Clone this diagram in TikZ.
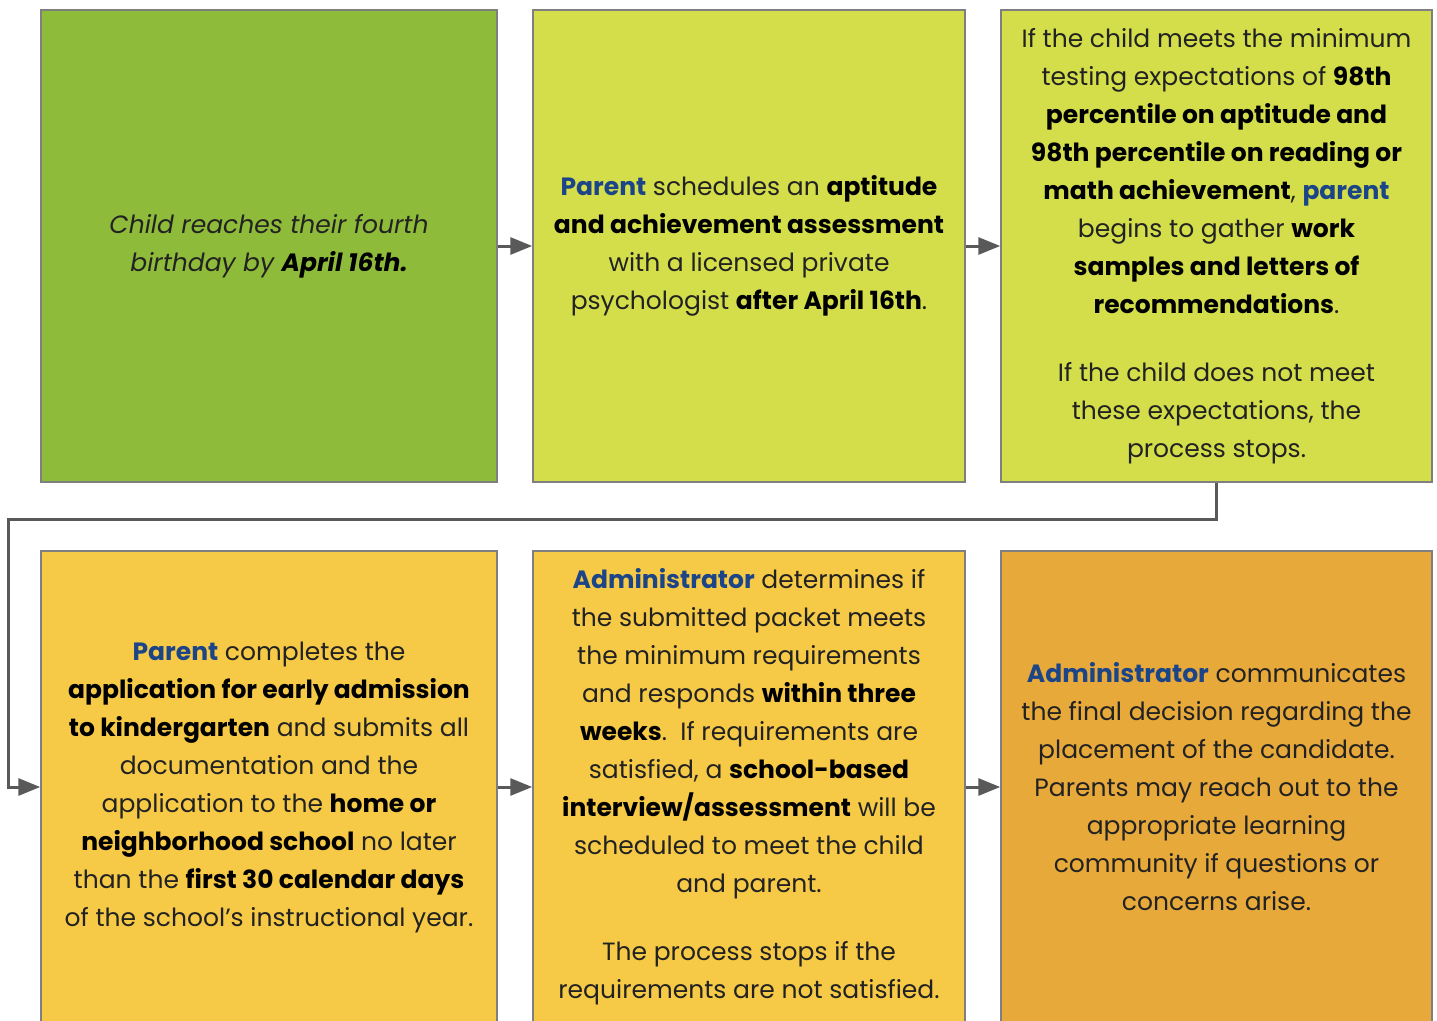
\documentclass[tikz,border=0pt]{standalone}
\usepackage{fontspec}
\setmainfont{Poppins}
\usetikzlibrary{arrows.meta}
\definecolor{cgreen}{HTML}{8FBB3A}
\definecolor{clime}{HTML}{D3DE4A}
\definecolor{cyellow}{HTML}{F6CA46}
\definecolor{corange}{HTML}{E8A93B}
\definecolor{cborder}{HTML}{7F7F7F}
\definecolor{carrow}{HTML}{595959}
\definecolor{cblue}{HTML}{1C4587}
\definecolor{ctext}{HTML}{222222}
\newcommand{\bl}[1]{\textbf{\color{black}#1}}
\newcommand{\who}[1]{\textbf{\color{cblue}#1}}
\tikzset{
  box/.style={draw=cborder, line width=1.5pt, minimum height=472pt, inner sep=0pt,
    align=center, text=ctext, font=\fontsize{25}{38}\selectfont},
  conn/.style={draw=carrow, line width=3pt, -{Triangle[length=22pt,width=17pt]}}
}
\begin{document}
\begin{tikzpicture}[x=1pt,y=-1pt]
\useasboundingbox (0,0) rectangle (1437,1020);
\clip (0,0) rectangle (1437,1020);
\node[box, fill=cgreen, minimum width=456pt] (b1) at (269,246)
  {\itshape Child reaches their fourth\\ \itshape birthday by \bl{April 16th.}};
\node[box, fill=clime, minimum width=432pt] (b2) at (749,246)
  {\who{Parent} schedules an \bl{aptitude}\\ \bl{and achievement assessment}\\ with a licensed private\\ psychologist \bl{after April 16th}.};
\node[box, fill=clime, minimum width=431pt] (b3) at (1216.5,246)
  {If the child meets the minimum\\ testing expectations of \bl{98th}\\ \bl{percentile on aptitude and}\\ \bl{98th percentile on reading or}\\ \bl{math achievement}, \who{parent}\\ begins to gather \bl{work}\\ \bl{samples and letters of}\\ \bl{recommendations}.\\[30pt] If the child does not meet\\ these expectations, the\\ process stops.};
\node[box, fill=cyellow, minimum width=456pt] (b4) at (269,787)
  {\who{Parent} completes the\\ \bl{application for early admission}\\ \bl{to kindergarten} and submits all\\ documentation and the\\ application to the \bl{home or}\\ \bl{neighborhood school} no later\\ than the \bl{first 30 calendar days}\\ of the school’s instructional year.};
\node[box, fill=cyellow, minimum width=432pt] (b5) at (749,787)
  {\who{Administrator} determines if\\ the submitted packet meets\\ the minimum requirements\\ and responds \bl{within three}\\ \bl{weeks}.\ \ If requirements are\\ satisfied, a \bl{school-based}\\ \bl{interview/assessment} will be\\ scheduled to meet the child\\ and parent.\\[30pt] The process stops if the\\ requirements are not satisfied.};
\node[box, fill=corange, minimum width=431pt] (b6) at (1216.5,787)
  {\who{Administrator} communicates\\ the final decision regarding the\\ placement of the candidate.\\ Parents may reach out to the\\ appropriate learning\\ community if questions or\\ concerns arise.};
\coordinate (c1) at (8,519);
\draw[conn] (b1.east) -- (b2.west);
\draw[conn] (b2.east) -- (b3.west);
\draw[conn] (b4.east) -- (b5.west);
\draw[conn] (b5.east) -- (b6.west);
\draw[conn] (b3.south) |- (c1) |- (b4.west);
\end{tikzpicture}
\end{document}
